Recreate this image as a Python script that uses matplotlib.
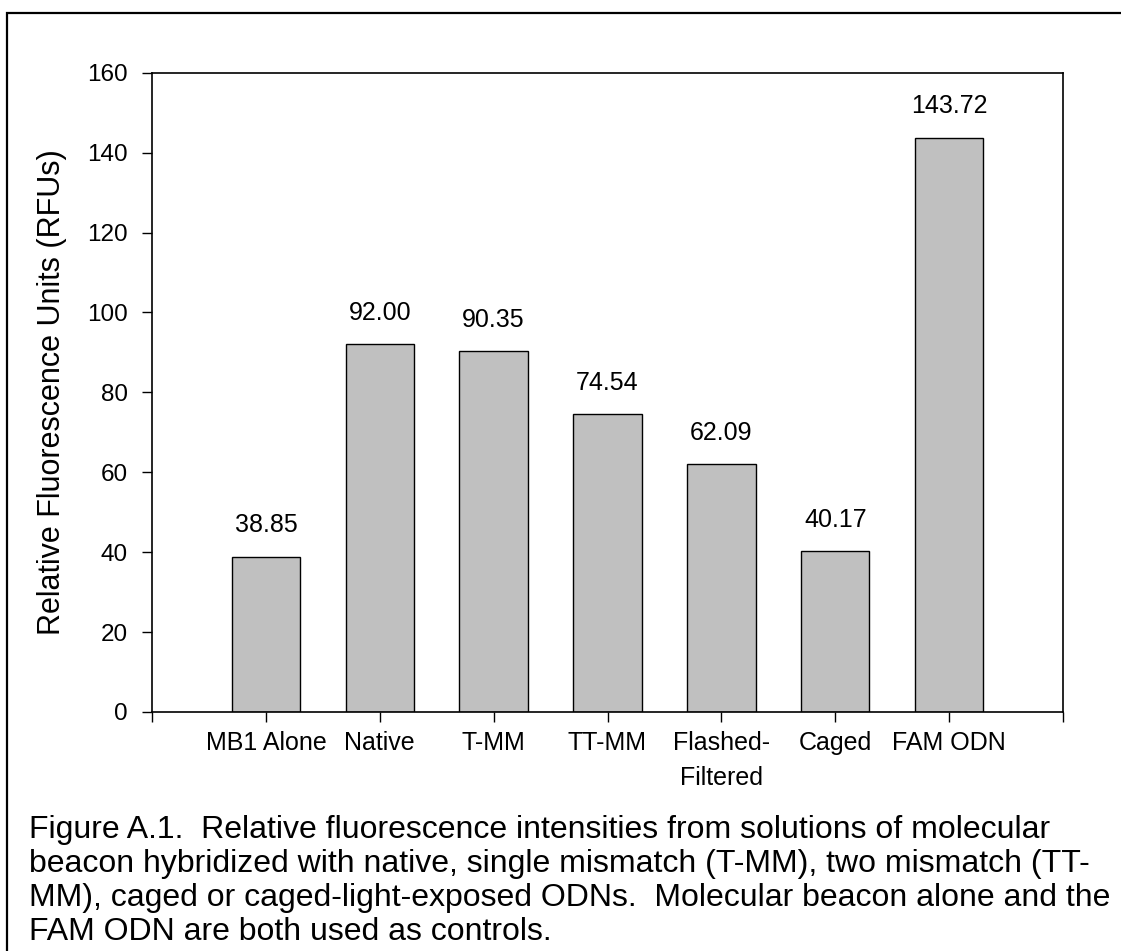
import matplotlib
matplotlib.use("Agg")
import matplotlib.pyplot as plt
from matplotlib.patches import Rectangle

plt.rcParams['font.family'] = ['Liberation Sans', 'DejaVu Sans']

# data
categories = ["MB1 Alone", "Native", "T-MM", "TT-MM", "Flashed-\nFiltered", "Caged", "FAM ODN"]
rfu_values = [38.85, 92.00, 90.35, 74.54, 62.09, 40.17, 143.72]
y_ticks = [0, 20, 40, 60, 80, 100, 120, 140, 160]

caption_lines = [
    "Figure A.1.  Relative fluorescence intensities from solutions of molecular",
    "beacon hybridized with native, single mismatch (T-MM), two mismatch (TT-",
    "MM), caged or caged-light-exposed ODNs.  Molecular beacon alone and the",
    "FAM ODN are both used as controls.",
]

W, H = 1121, 951
fig = plt.figure(figsize=(W / 100, H / 100), dpi=100)

# outer frame (runs off the right and bottom edges like the scan)
fig.patches.append(Rectangle((7 / W, -0.05), 1.2, 1 - 13 / H + 0.05,
                             transform=fig.transFigure, fill=False,
                             edgecolor='black', linewidth=1.6))

ax = fig.add_axes([152 / W, 1 - 712 / H, (1063 - 152) / W, (712 - 72.7) / H])

x = list(range(1, len(categories) + 1))
ax.bar(x, rfu_values, width=0.6, color='#C0C0C0', edgecolor='black', linewidth=1.0)

for xi, v in zip(x, rfu_values):
    ax.annotate(f"{v:.2f}", (xi, v), xytext=(0, 17.5), textcoords='offset points',
                ha='center', va='baseline', fontsize=18)

ax.set_xlim(0, len(categories) + 1)
ax.set_ylim(0, 160)
ax.set_yticks(y_ticks)
ax.set_xticks(range(0, len(categories) + 2))
ax.set_xticklabels([""] + categories + [""])
for lab in ax.get_xticklabels():
    lab.set_linespacing(1.6)

ax.tick_params(axis='y', direction='out', length=7.2, width=1.0, labelsize=17.5, pad=10)
ax.tick_params(axis='x', direction='out', length=7, width=1.0, labelsize=18, pad=6.5)
for s in ax.spines.values():
    s.set_linewidth(1.2)

ax.set_ylabel("Relative Fluorescence Units (RFUs)", fontsize=22, labelpad=15)

# caption, one baseline per line
for i, line in enumerate(caption_lines):
    fig.text(29 / W, 1 - (838 + 34 * i) / H, line, fontsize=23,
             ha='left', va='baseline')

fig.savefig("out.png", dpi=100)
